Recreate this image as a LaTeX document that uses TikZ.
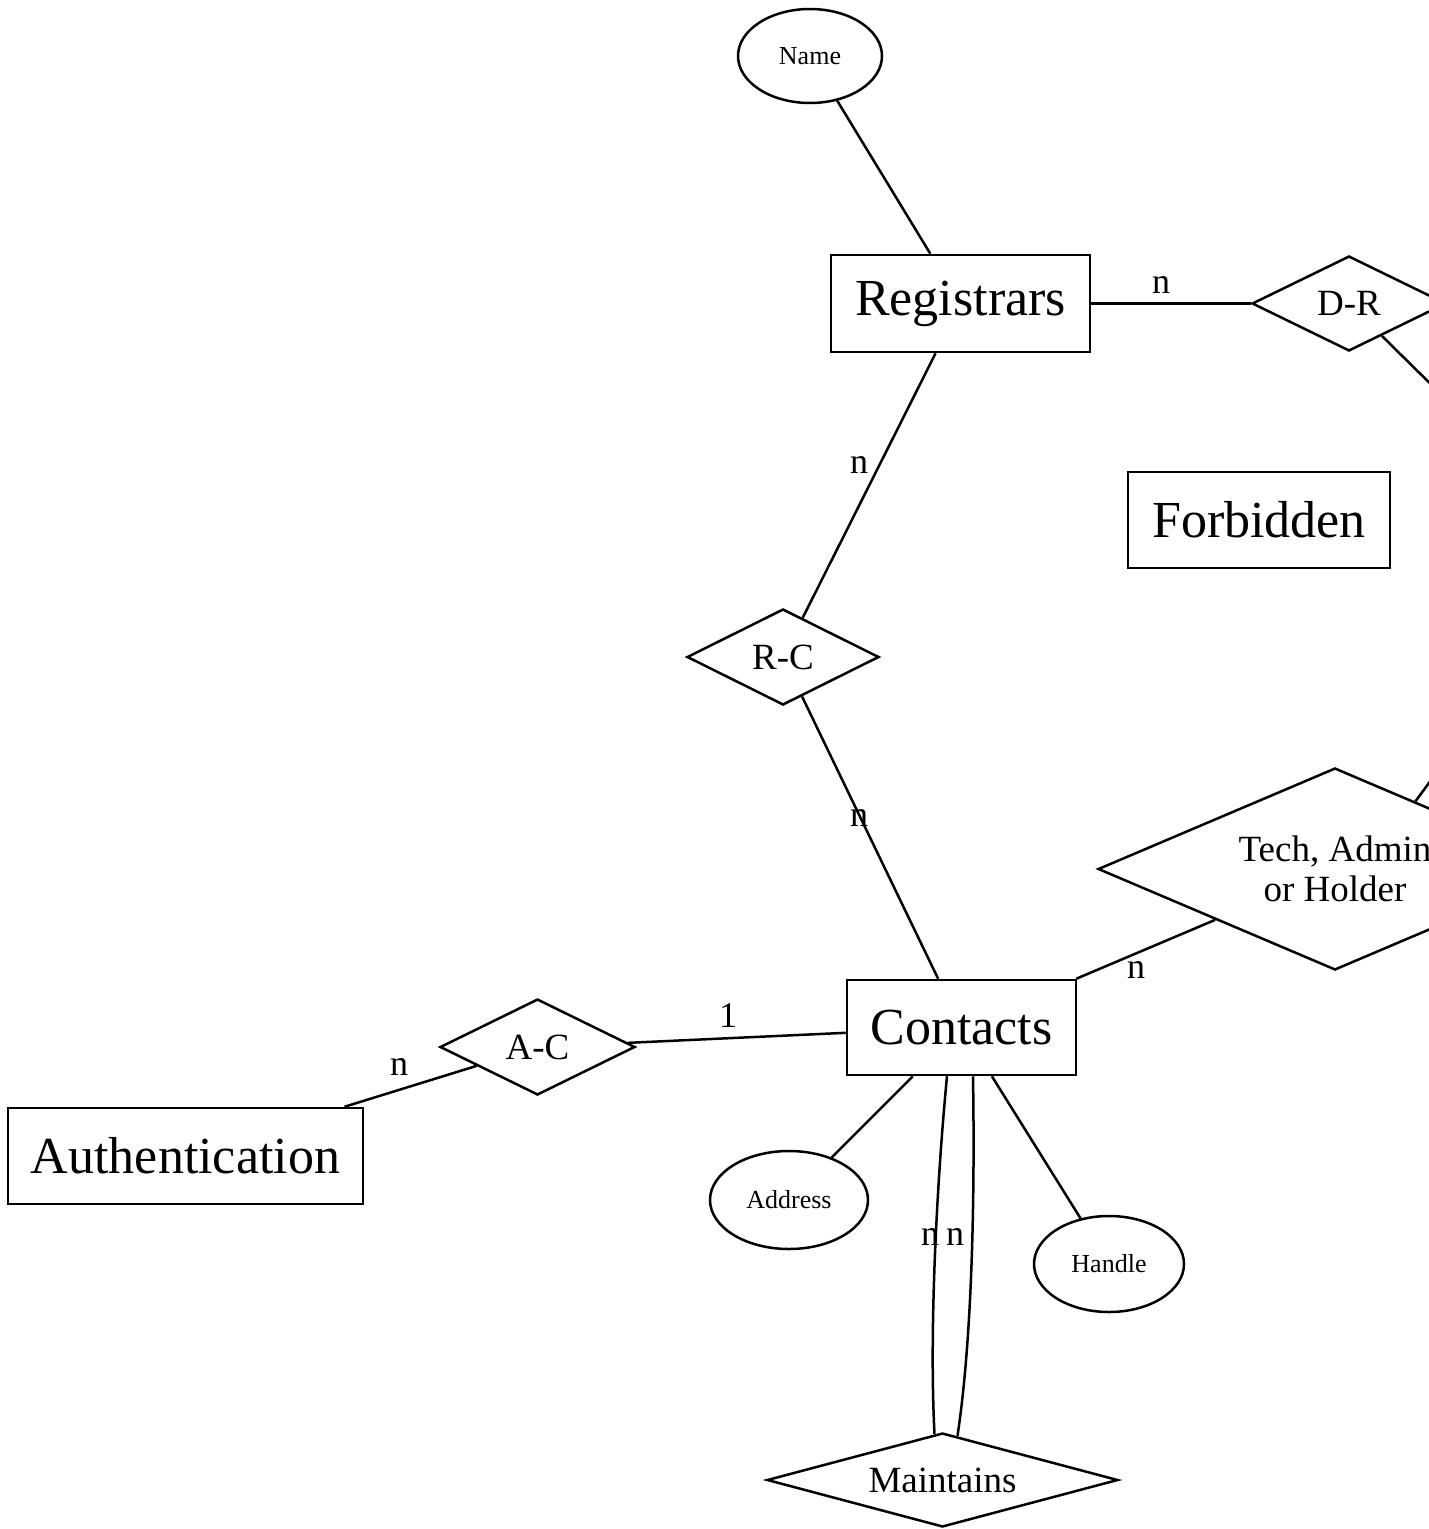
\documentclass[tikz,border=0pt]{standalone}
\usepackage{fontspec}
\setmainfont{Liberation Serif}
\usetikzlibrary{shapes.geometric,calc}

\begin{document}
\begin{tikzpicture}[x=1pt,y=-1pt,line width=2.5pt,
  entity/.style={draw,rectangle,inner sep=0pt,font=\fontsize{52}{60}\selectfont},
  relation/.style={draw,diamond,inner sep=0pt,align=center,font=\fontsize{37}{40}\selectfont},
  attribute/.style={draw,ellipse,inner sep=0pt,font=\fontsize{26}{30}\selectfont},
  card/.style={inner sep=0pt,font=\fontsize{36}{40}\selectfont}]
\useasboundingbox (0,0) rectangle (1429,1529);
\fill[white] (0,0) rectangle (1429,1529);
\clip (0,0) rectangle (1429,1529);

% entities
\node[entity,minimum width=259pt,minimum height=97pt] (registrars) at (960.5,303.5) {Registrars};
\node[entity,minimum width=262pt,minimum height=96pt] (forbidden) at (1259,520) {Forbidden};
\node[entity,minimum width=229pt,minimum height=95pt] (contacts) at (961.5,1027.5) {Contacts};
\node[entity,minimum width=355pt,minimum height=96pt] (auth) at (185.5,1156) {Authentication};

% relationships
\node[relation,aspect=2,minimum width=194pt,minimum height=95pt] (dr) at (1349,303.5) {D-R};
\node[relation,aspect=2,minimum width=192pt,minimum height=96pt] (rc) at (783,657) {R-C};
\node[relation,aspect=2,minimum width=195pt,minimum height=96pt] (ac) at (537.5,1047) {A-C};
\node[relation,aspect=2.35,minimum width=474pt,minimum height=202pt] (tech) at (1335,869) {Tech, Admin\\or Holder};
\node[relation,aspect=3.7,minimum width=351pt,minimum height=94pt] (maint) at (942.5,1480) {Maintains};

% attributes
\node[attribute,minimum width=144pt,minimum height=94pt] (name) at (810,56) {Name};
\node[attribute,minimum width=158pt,minimum height=98pt] (address) at (789,1200) {Address};
\node[attribute,minimum width=150pt,minimum height=96pt] (handle) at (1109,1264) {Handle};

% entity beyond the right edge
\coordinate (domains) at (1600,551);

% connectors
\draw (name) -- (registrars);
\draw (registrars) -- (dr);
\draw (dr) -- (domains);
\draw ($(tech.north)!0.3376!(tech.east)$) -- (domains);
\draw (registrars) -- (rc);
\draw (rc) -- (contacts);
\draw (contacts) -- (tech);
\draw (ac) -- (contacts);
\draw (auth) -- (ac);
\draw (contacts) -- (address);
\draw (contacts) -- (handle);
\draw ([xshift=-14.5pt]contacts.south) .. controls (937,1180) and (929,1330) .. ([xshift=-8pt,yshift=-2pt]maint.north);
\draw ([xshift=11.5pt]contacts.south) .. controls (975,1200) and (972,1340) .. ([xshift=15pt,yshift=-4pt]maint.north);

% cardinalities
\node[card] (c1) at (1161,285) {n};
\node[card] (c2) at (859,465) {n};
\node[card] (c3) at (859,818) {n};
\node[card] (c4) at (1136,970) {n};
\node[card] (c5) at (728,1016) {1};
\node[card] (c6) at (399,1067) {n};
\node[card] (c7) at (930,1237) {n};
\node[card] (c8) at (955,1237) {n};
\end{tikzpicture}
\end{document}
